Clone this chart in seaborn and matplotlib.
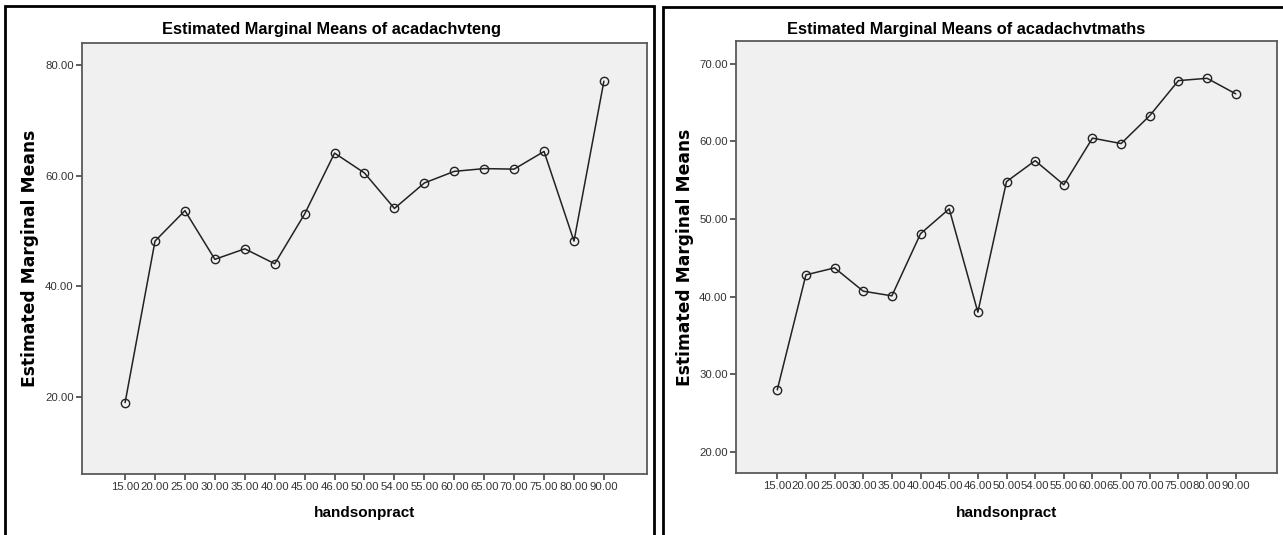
import numpy as np
import pandas as pd
import matplotlib
matplotlib.use("Agg")
import matplotlib.pyplot as plt
import seaborn as sns
from matplotlib.patches import Rectangle
from matplotlib.ticker import FormatStrFormatter

# Levels of the factor (x axis categories)
handsonpract = ["15.00", "20.00", "25.00", "30.00", "35.00", "40.00", "45.00",
                "46.00", "50.00", "54.00", "55.00", "60.00", "65.00", "70.00",
                "75.00", "80.00", "90.00"]

# Estimated marginal means for each dependent variable
acadachvteng = [19.0, 48.2, 53.7, 44.9, 46.8, 44.1, 53.1, 64.1, 60.5, 54.1,
                58.7, 60.8, 61.3, 61.2, 64.4, 48.2, 77.1]
acadachvtmaths = [28.0, 42.8, 43.7, 40.7, 40.1, 48.1, 51.3, 38.0, 54.8, 57.5,
                  54.4, 60.4, 59.7, 63.3, 67.8, 68.1, 66.1]

eng_ticks = [20, 40, 60, 80]
maths_ticks = [20, 30, 40, 50, 60, 70]

sns.set_theme(style="ticks")
plt.rcParams["font.family"] = ["Liberation Sans", "DejaVu Sans"]

W, H = 1283, 535
fig = plt.figure(figsize=(W / 100, H / 100), dpi=100)
fig.patch.set_facecolor("white")


def px_axes(l, t, r, b):
    return fig.add_axes([l / W, 1 - b / H, (r - l) / W, (b - t) / H])


panels = [
    dict(box=(5, 6, 654), axes=(82, 43, 647, 474), y=acadachvteng,
         dv="acadachvteng", ylim=(6.1, 84.0), ticks=eng_ticks,
         title_x=332, ylabel_x=39),
    dict(box=(663, 7, 1300), axes=(736, 41, 1277, 473), y=acadachvtmaths,
         dv="acadachvtmaths", ylim=(17.3, 72.9), ticks=maths_ticks,
         title_x=966, ylabel_x=694),
]

for p in panels:
    # outer frame around each chart
    bl, bt, br = p["box"]
    fig.add_artist(Rectangle((bl / W, -0.05), (br - bl) / W, (H - bt) / H + 0.05,
                             transform=fig.transFigure, fill=False,
                             edgecolor="black", linewidth=2.0))

    l, t, r, b = p["axes"]
    ax = px_axes(l, t, r, b)
    ax.set_facecolor("#F0F0F0")

    df = pd.DataFrame({"handsonpract": handsonpract, "emm": p["y"]})
    sns.pointplot(data=df, x="handsonpract", y="emm", order=handsonpract,
                  color="#222222", markers="o", linestyles="-", errorbar=None,
                  ax=ax, markersize=6, linewidth=1.1, markeredgewidth=1.0)
    for line in ax.lines:
        line.set_markerfacecolor("none")
        line.set_markeredgecolor("#222222")

    ax.set_xlim(-1.44, len(handsonpract) - 1 + 1.44)
    ax.set_ylim(*p["ylim"])
    ax.set_yticks(p["ticks"])
    ax.yaxis.set_major_formatter(FormatStrFormatter("%.2f"))

    ax.tick_params(axis="both", direction="out", length=4, width=1.1,
                   color="#333333", labelsize=8.2, labelcolor="#333333",
                   bottom=True, left=True, pad=2)

    for s in ax.spines.values():
        s.set_visible(True)
        s.set_color("#5a5a5a")
        s.set_linewidth(1.3)

    ax.set_xlabel("handsonpract", fontsize=11, fontweight="bold",
                  color="black")
    ax.xaxis.set_label_coords(0.5, (b - 506) / (b - t))

    ax.set_ylabel("Estimated Marginal Means", fontsize=12.3,
                  fontweight="bold", family="DejaVu Sans", color="black")
    ax.yaxis.set_label_coords((p["ylabel_x"] - l) / (r - l), 0.5)

    ax.set_title(f"Estimated Marginal Means of {p['dv']}", fontsize=11.8,
                 fontweight="bold", color="black",
                 x=(p["title_x"] - l) / (r - l), y=1 + (t - 34) / (b - t),
                 pad=0, va="baseline")

fig.savefig("out.png", dpi=100, facecolor="white")
